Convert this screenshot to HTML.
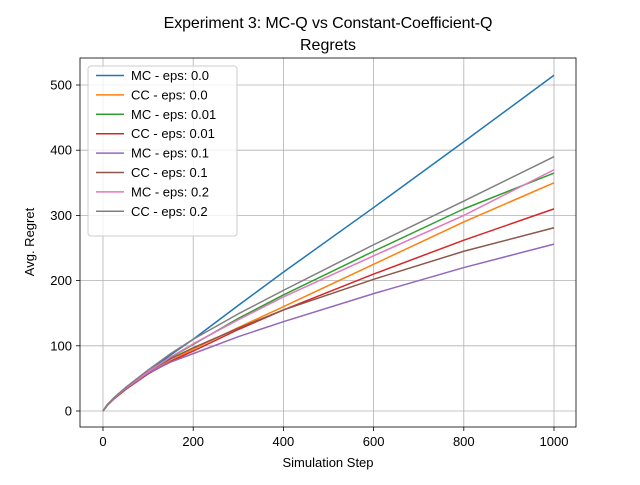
<!DOCTYPE html>
<html><head><meta charset="utf-8"><style>
body{margin:0;background:#fff}
svg text{font-family:"Liberation Sans","DejaVu Sans",sans-serif;fill:#000}
</style></head><body>
<svg id="chart" width="640" height="480" xmlns="http://www.w3.org/2000/svg">
<rect width="640" height="480" fill="#fff"/>
<text x="328" y="28" font-size="16" text-anchor="middle" letter-spacing="-0.1">Experiment 3: MC-Q vs Constant-Coefficient-Q</text>
<text x="328" y="50" font-size="16" text-anchor="middle">Regrets</text>
<g id="grid"></g>
<g id="lines"></g>
<rect x="80" y="58" width="496" height="369" fill="none" stroke="#000" stroke-width="0.8"/>
<g id="ticks"></g>
<text x="328" y="467" font-size="13" text-anchor="middle">Simulation Step</text>
<text x="34" y="242" font-size="13" text-anchor="middle" transform="rotate(-90 34 242)">Avg. Regret</text>
<g id="legend"></g>
</svg>
<script>
const xs=[0,10,25,50,100,150,200,300,400,600,800,1000];
const seriesNames=["MC - eps: 0.0","CC - eps: 0.0","MC - eps: 0.01","CC - eps: 0.01","MC - eps: 0.1","CC - eps: 0.1","MC - eps: 0.2","CC - eps: 0.2"];
const mc00=[0,10,20,35,60,86,110,162,213,312,413,515];
const cc00=[0,9,19,33,57,77,95,128,160,225,290,350];
const mc001=[0,10,20,34,60,82,102,142,178,245,310,365];
const cc001=[0,9,19,33,57,76,92,125,155,210,262,310];
const mc01=[0,10,20,34,58,75,88,114,137,180,220,256];
const cc01=[0,10,20,35,60,80,97,127,155,202,245,281];
const mc02=[0,10,20,35,60,83,103,140,175,238,300,370];
const cc02=[0,10,21,36,63,88,110,149,185,255,322,390];
const seriesVals=[mc00,cc00,mc001,cc001,mc01,cc01,mc02,cc02];
const colors=["#1f77b4","#ff7f0e","#2ca02c","#d62728","#9467bd","#8c564b","#e377c2","#7f7f7f"];
const xTicks=[0,200,400,600,800,1000];
const yTicks=[0,100,200,300,400,500];
const X=v=>103+v*0.451, Y=v=>411-v*0.652;
const NS="http://www.w3.org/2000/svg";
function mk(tag,attrs,parent){const e=document.createElementNS(NS,tag);for(const k in attrs)e.setAttribute(k,attrs[k]);parent.appendChild(e);return e;}
const grid=document.getElementById('grid'),ticks=document.getElementById('ticks'),lines=document.getElementById('lines'),legend=document.getElementById('legend');
xTicks.forEach(t=>{
 const g=mk('line',{x1:X(t),x2:X(t),y1:58,y2:427,stroke:'#b0b0b0','stroke-width':0.8},grid);
 
 
 mk('line',{x1:X(t),x2:X(t),y1:427,y2:431,stroke:'#000','stroke-width':0.8},ticks);
 const tx=mk('text',{x:X(t),y:446,'font-size':13,'text-anchor':'middle'},ticks);tx.textContent=t;
 
 
});
yTicks.forEach(t=>{
 const g=mk('line',{x1:80,x2:576,y1:Y(t),y2:Y(t),stroke:'#b0b0b0','stroke-width':0.8},grid);
 
 
 mk('line',{x1:76,x2:80,y1:Y(t),y2:Y(t),stroke:'#000','stroke-width':0.8},ticks);
 const tx=mk('text',{x:72,y:Y(t)+4.5,'font-size':13,'text-anchor':'end'},ticks);tx.textContent=t;
 
 
});
seriesVals.forEach((vals,i)=>{
 const p=mk('polyline',{points:xs.map((x,j)=>X(x)+','+Y(vals[j])).join(' '),fill:'none',stroke:colors[i],'stroke-width':1.5,'stroke-linejoin':'round'},lines);
 
 
});
const lb=mk('rect',{x:88,y:66,width:149,height:170,rx:3,fill:'#fff','fill-opacity':0.8,stroke:'#ccc'},legend);


seriesNames.forEach((n,i)=>{
 const y=75.5+i*19.4;
 const l=mk('line',{x1:96,x2:124,y1:y,y2:y,stroke:colors[i],'stroke-width':1.5},legend);
 
 
 const t=mk('text',{x:131,y:y+4.5,'font-size':13},legend);t.textContent=n;
 
 
});
</script>
</body></html>
